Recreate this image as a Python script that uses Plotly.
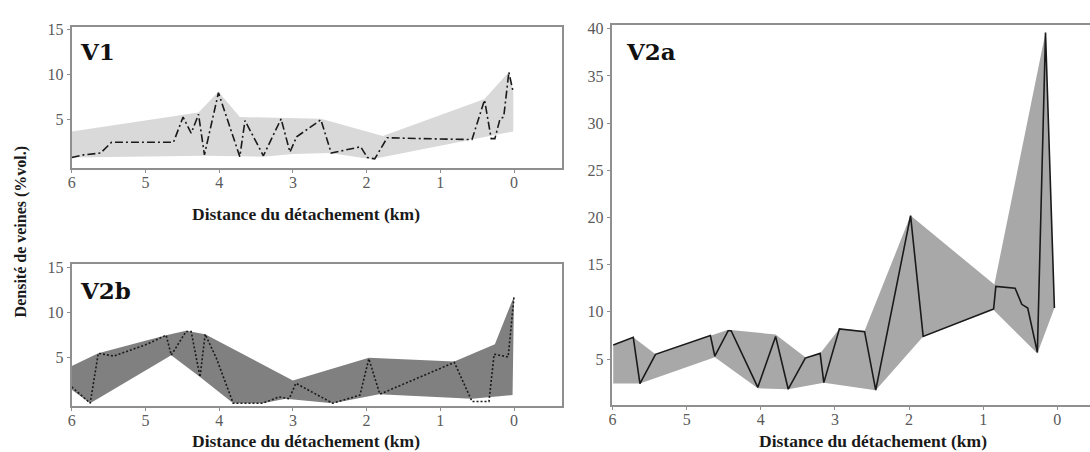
import plotly.graph_objects as go

# ---------------- data ----------------
x_ticks = [6, 5, 4, 3, 2, 1, 0]

# V1
v1_km = [6.0, 5.84, 5.61, 5.46, 4.62, 4.49, 4.38, 4.28, 4.20, 4.01, 3.72, 3.65, 3.40, 3.16, 3.04, 2.95,
         2.62, 2.48, 2.08, 1.99, 1.89, 1.72, 1.24, 0.57, 0.40, 0.31, 0.26, 0.19, 0.14, 0.07, 0.01]
v1_val = [0.8, 1.1, 1.3, 2.5, 2.5, 5.3, 3.5, 5.6, 1.1, 8.0, 0.9, 4.9, 1.0, 5.1, 1.4, 3.1,
          5.0, 1.3, 2.0, 0.8, 0.65, 3.0, 2.9, 2.8, 7.2, 2.9, 2.9, 5.1, 5.3, 10.3, 8.0]
v1_up_km = [6.0, 4.28, 4.01, 3.72, 2.62, 1.78, 0.40, 0.07, 0.01]
v1_up_val = [3.7, 5.8, 8.1, 5.3, 5.1, 3.2, 7.3, 10.3, 8.0]
v1_lo_km = [6.0, 4.2, 3.4, 3.0, 2.5, 1.93, 0.01]
v1_lo_val = [0.8, 1.0, 0.9, 1.2, 1.3, 0.6, 3.7]

# V2b
v2b_km = [6.0, 5.75, 5.64, 5.43, 4.98, 4.72, 4.65, 4.45, 4.38, 4.26, 4.19, 4.04, 3.81, 3.41, 3.19, 3.05,
          2.96, 2.46, 2.09, 1.97, 1.82, 0.81, 0.57, 0.34, 0.27, 0.16, 0.08, 0.0]
v2b_val = [1.8, 0.0, 5.5, 5.2, 6.5, 7.5, 5.3, 7.9, 7.9, 2.9, 7.6, 5.0, 0.0, 0.0, 0.7, 0.5,
           2.2, 0.0, 0.9, 4.9, 1.0, 4.5, 0.2, 0.2, 5.4, 5.2, 5.1, 11.7]
v2b_up_km = [6.0, 5.64, 4.72, 4.45, 4.19, 3.0, 1.97, 0.81, 0.26, 0.0]
v2b_up_val = [4.1, 5.5, 7.5, 8.0, 7.6, 2.5, 5.0, 4.6, 6.5, 11.8]
v2b_lo_km = [6.0, 5.75, 4.65, 4.26, 3.81, 3.41, 3.1, 2.46, 1.83, 0.57, 0.02]
v2b_lo_val = [1.5, 0.0, 5.3, 2.9, 0.0, 0.0, 0.5, 0.0, 1.0, 0.5, 0.9]

# V2a
v2a_km = [5.99, 5.72, 5.63, 5.42, 4.68, 4.62, 4.44, 4.40, 4.04, 3.80, 3.63, 3.40, 3.20, 3.15, 2.94, 2.60,
          2.45, 1.98, 1.81, 1.68, 0.86, 0.83, 0.57, 0.48, 0.40, 0.27, 0.16, 0.04]
v2a_val = [6.5, 7.3, 2.4, 5.5, 7.5, 5.3, 8.0, 8.0, 2.0, 7.4, 1.8, 5.1, 5.6, 2.5, 8.2, 7.9,
           1.7, 20.2, 7.4, 7.8, 10.3, 12.7, 12.5, 10.8, 10.4, 5.7, 39.6, 10.4]
v2a_up_km = [5.99, 5.72, 5.42, 4.68, 4.44, 3.80, 3.40, 3.20, 2.94, 2.60, 1.98, 0.85, 0.16, 0.04]
v2a_up_val = [6.5, 7.3, 5.5, 7.5, 8.1, 7.6, 5.2, 5.6, 8.2, 8.0, 20.2, 12.9, 39.6, 10.4]
v2a_lo_km = [5.99, 5.63, 4.62, 4.04, 3.63, 3.15, 2.45, 1.81, 0.86, 0.27, 0.04]
v2a_lo_val = [2.4, 2.4, 5.2, 1.9, 1.8, 2.5, 1.7, 7.4, 10.2, 5.6, 10.4]

# ---------------- figure ----------------
W, H = 1090, 452
def px(x): return x / W
def py(y): return 1 - y / H

fig = go.Figure()

def band(up_x, up_y, lo_x, lo_y, color, xa, ya):
    fig.add_trace(go.Scatter(
        x=up_x + lo_x[::-1], y=up_y + lo_y[::-1], fill="toself", fillcolor=color,
        mode="lines", line=dict(width=0, color=color), xaxis=xa, yaxis=ya,
        hoverinfo="skip", showlegend=False))

def line(x, y, dash, xa, ya):
    fig.add_trace(go.Scatter(
        x=x, y=y, mode="lines", line=dict(color="#1a1a1a", width=1.6, dash=dash),
        xaxis=xa, yaxis=ya, showlegend=False))

band(v1_up_km, v1_up_val, v1_lo_km, v1_lo_val, "#d9d9d9", "x", "y")
line(v1_km, v1_val, "8px,3px,2px,3px", "x", "y")
band(v2b_up_km, v2b_up_val, v2b_lo_km, v2b_lo_val, "#808080", "x2", "y2")
line(v2b_km, v2b_val, "2px,2px", "x2", "y2")
band(v2a_up_km, v2a_up_val, v2a_lo_km, v2a_lo_val, "#a8a8a8", "x3", "y3")
line(v2a_km, v2a_val, "solid", "x3", "y3")

tickfont = dict(family="Liberation Serif, serif", size=16, color="#5a5a5a")
axis_common = dict(showline=True, linecolor="#8f8f8f", linewidth=2, showgrid=False,
                   zeroline=False, ticks="outside", ticklen=3, tickcolor="#8f8f8f",
                   tickfont=tickfont)
xaxis_extra = dict(ticklabelstandoff=-4)

fig.update_layout(
    width=W, height=H, margin=dict(l=0, r=0, t=0, b=0),
    paper_bgcolor="white", plot_bgcolor="white",
    xaxis=dict(domain=[px(68), px(560)], range=[6, -0.65], tickvals=x_ticks,
               anchor="y", mirror=True, **axis_common, **xaxis_extra),
    yaxis=dict(domain=[py(165), py(22)], range=[-0.38, 15.33], tickvals=[5, 10, 15],
               anchor="x", mirror=True, **axis_common),
    xaxis2=dict(domain=[px(68), px(560)], range=[6, -0.65], tickvals=x_ticks,
                anchor="y2", mirror=True, **axis_common, **xaxis_extra),
    yaxis2=dict(domain=[py(405), py(262)], range=[-0.25, 15.33], tickvals=[5, 10, 15],
                anchor="x2", mirror=True, **axis_common),
    xaxis3=dict(domain=[px(610), 1.0], range=[6.01, -0.44], tickvals=x_ticks,
                anchor="y3", mirror=True, **axis_common, **xaxis_extra),
    yaxis3=dict(domain=[py(404), py(20)], range=[0.18, 40.42], tickvals=[5, 10, 15, 20, 25, 30, 35, 40],
                anchor="x3", mirror=False, **axis_common),
)

title_font = dict(family="Liberation Serif, serif", size=17.5, color="#1a1a1a")
ytitle_font = dict(family="Liberation Serif, serif", size=16, color="#1a1a1a")
label_font = dict(family="DejaVu Serif, serif", size=23, color="#111111")

annotations = [
    dict(text="<b>Distance du détachement (km)</b>", x=px(303), y=py(211), font=title_font),
    dict(text="<b>Distance du détachement (km)</b>", x=px(303), y=py(441), font=title_font),
    dict(text="<b>Distance du détachement (km)</b>", x=px(872), y=py(441), font=title_font),
    dict(text="<b>Densité de veines (%vol.)</b>", x=px(18), y=py(229), font=ytitle_font, textangle=-90),
    dict(text="<b>V1</b>", x=px(74), y=py(47), font=label_font, xanchor="left"),
    dict(text="<b>V2b</b>", x=px(74), y=py(289), font=label_font, xanchor="left"),
    dict(text="<b>V2a</b>", x=px(622), y=py(47), font=label_font, xanchor="left"),
]
for a in annotations:
    a.setdefault("xanchor", "center")
    fig.add_annotation(xref="paper", yref="paper", showarrow=False, yanchor="middle", **a)

fig.write_html("out.html", config={"displayModeBar": False},
               post_script="document.body.style.margin='0px';document.body.style.padding='0px';")
